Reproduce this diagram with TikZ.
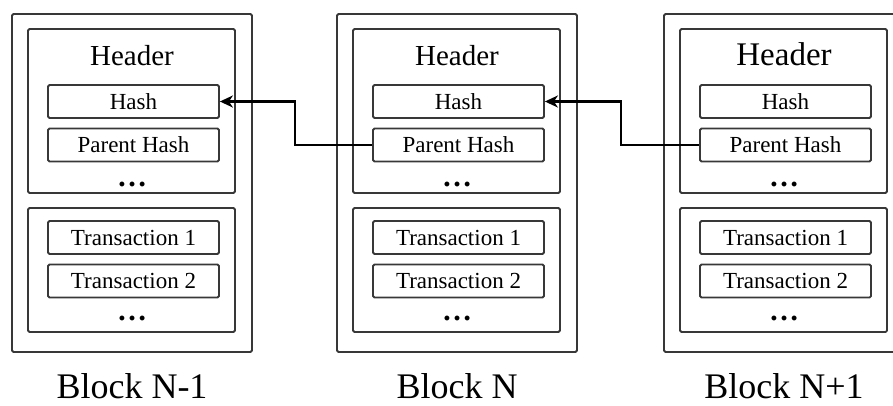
\documentclass[tikz,border=0pt]{standalone}
\usepackage{fontspec}
\setmainfont{Liberation Serif}
\usetikzlibrary{arrows.meta}
\definecolor{boxline}{HTML}{383838}
\tikzset{
  frame/.style={draw=boxline,line width=1.8pt,rounded corners=1.5pt,inner sep=0pt},
  outerbox/.style={frame,minimum width=240pt,minimum height=338pt},
  groupbox/.style={frame,minimum width=207pt},
  field/.style={frame,minimum width=171pt,minimum height=33pt,
    font=\fontsize{23}{23}\selectfont,text height=15pt,text depth=0pt},
  dots/.style={anchor=base,inner sep=0pt,font=\fontsize{30}{30}\selectfont\bfseries},
  blocklabel/.style={anchor=base,inner sep=0pt,font=\fontsize{36}{36}\selectfont},
  conn/.style={draw=black,line width=2.5pt,
    -{Stealth[length=13pt,width=12pt,inset=4pt]}}
}
\begin{document}
\begin{tikzpicture}[x=1pt,y=-1pt]
\useasboundingbox (0,0) rectangle (893,405);
\clip (0,0) rectangle (893,405);
\foreach \n/\L/\hs/\lab in {A/12/29/{Block N-1},B/337/29/{Block N},C/664/33/{Block N+1}}{
  \node[outerbox] (outer\n) at (\L+120,183) {};
  \node[groupbox,minimum height=164pt] (header\n) at (\L+119.5,111) {};
  \node[anchor=base,inner sep=0pt,font=\fontsize{\hs}{\hs}\selectfont] (htitle\n) at (\L+120,65) {Header};
  \node[field] (hash\n) at (\L+121.5,101.5) {Hash};
  \node[field] (parent\n) at (\L+121.5,145) {Parent Hash};
  \node[dots] (hdots\n) at (\L+120,186) {…};
  \node[groupbox,minimum height=124pt] (txs\n) at (\L+119.5,270) {};
  \node[field] (txa\n) at (\L+121.5,237.5) {Transaction 1};
  \node[field] (txb\n) at (\L+121.5,281) {Transaction 2};
  \node[dots] (tdots\n) at (\L+120,320) {…};
  \node[blocklabel] (label\n) at (\L+120,398) {\lab};
}
\draw[conn] (parentB.west) -- ++(-77,0) |- (hashA.east);
\draw[conn] (parentC.west) -- ++(-78,0) |- (hashB.east);
\end{tikzpicture}
\end{document}
